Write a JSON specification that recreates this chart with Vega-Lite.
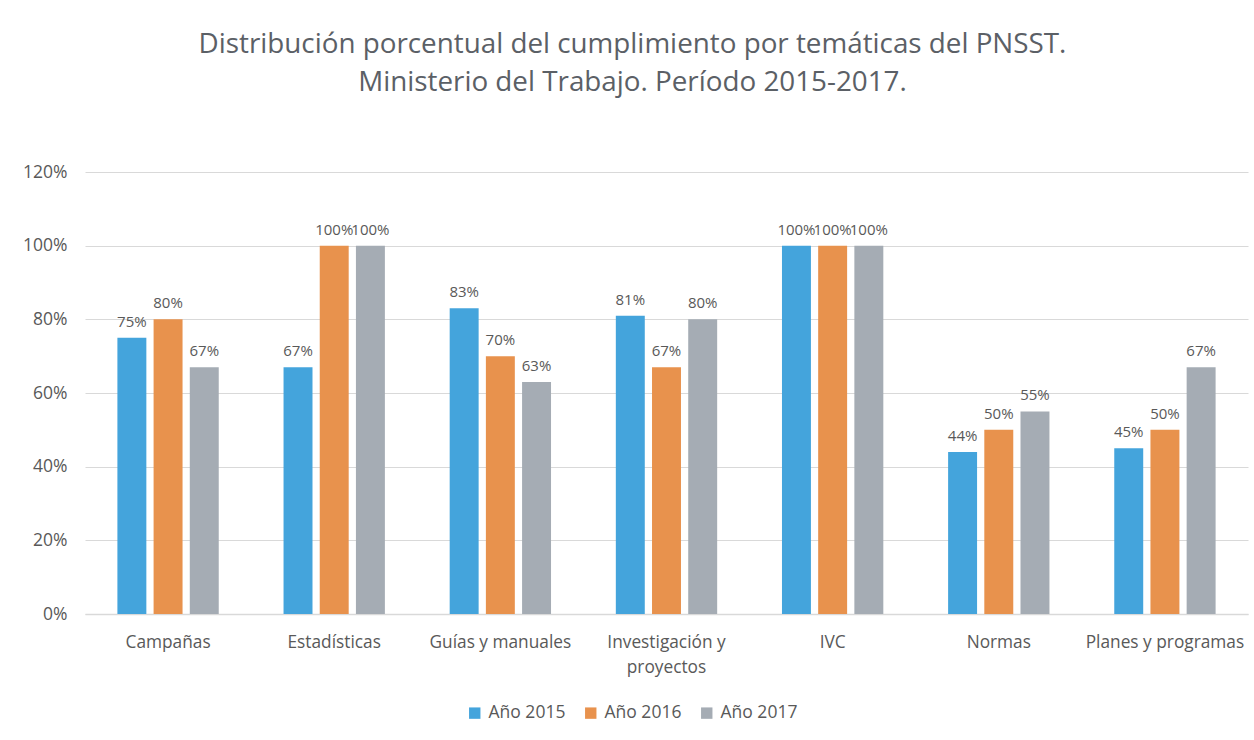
{
  "$schema": "https://vega.github.io/schema/vega-lite/v6.json",
  "autosize": {"type": "none"},
  "width": 1163,
  "height": 442,
  "padding": {"left": 85, "top": 172, "right": 6, "bottom": 126},
  "background": "white",
  "title": {
    "text": ["Distribución porcentual del cumplimiento por temáticas del PNSST.", "Ministerio del Trabajo. Período 2015-2017."],
    "font": "Open Sans",
    "fontSize": 27.8,
    "fontWeight": "normal",
    "color": "#5B6066",
    "lineHeight": 38,
    "anchor": "middle",
    "dx": -34,
    "offset": 66
  },
  "data": {
    "values": [
      {"tema": "Campañas", "anio": "Año 2015", "valor": 0.75},
      {"tema": "Campañas", "anio": "Año 2016", "valor": 0.80},
      {"tema": "Campañas", "anio": "Año 2017", "valor": 0.67},
      {"tema": "Estadísticas", "anio": "Año 2015", "valor": 0.67},
      {"tema": "Estadísticas", "anio": "Año 2016", "valor": 1.00},
      {"tema": "Estadísticas", "anio": "Año 2017", "valor": 1.00},
      {"tema": "Guías y manuales", "anio": "Año 2015", "valor": 0.83},
      {"tema": "Guías y manuales", "anio": "Año 2016", "valor": 0.70},
      {"tema": "Guías y manuales", "anio": "Año 2017", "valor": 0.63},
      {"tema": "Investigación y proyectos", "anio": "Año 2015", "valor": 0.81},
      {"tema": "Investigación y proyectos", "anio": "Año 2016", "valor": 0.67},
      {"tema": "Investigación y proyectos", "anio": "Año 2017", "valor": 0.80},
      {"tema": "IVC", "anio": "Año 2015", "valor": 1.00},
      {"tema": "IVC", "anio": "Año 2016", "valor": 1.00},
      {"tema": "IVC", "anio": "Año 2017", "valor": 1.00},
      {"tema": "Normas", "anio": "Año 2015", "valor": 0.44},
      {"tema": "Normas", "anio": "Año 2016", "valor": 0.50},
      {"tema": "Normas", "anio": "Año 2017", "valor": 0.55},
      {"tema": "Planes y programas", "anio": "Año 2015", "valor": 0.45},
      {"tema": "Planes y programas", "anio": "Año 2016", "valor": 0.50},
      {"tema": "Planes y programas", "anio": "Año 2017", "valor": 0.67}
    ]
  },
  "encoding": {
    "x": {
      "field": "tema",
      "type": "nominal",
      "sort": null,
      "title": null,
      "scale": {"paddingInner": 0.39, "paddingOuter": 0.195},
      "axis": {
        "labelAngle": 0,
        "labelFont": "Open Sans",
        "labelFontSize": 17.3,
        "labelColor": "#595959",
        "labelPadding": 19,
        "labelLineHeight": 25,
        "labelExpr": "datum.label == 'Investigación y proyectos' ? ['Investigación y', 'proyectos'] : datum.label",
        "ticks": false,
        "domainColor": "#D9D9D9",
        "domainWidth": 1.5
      }
    },
    "xOffset": {"field": "anio", "type": "nominal", "scale": {"paddingInner": 0.2}},
    "y": {
      "field": "valor",
      "type": "quantitative",
      "title": null,
      "scale": {"domain": [0, 1.2]},
      "axis": {
        "values": [0, 0.2, 0.4, 0.6, 0.8, 1.0, 1.2],
        "format": ".0%",
        "labelFont": "Open Sans",
        "labelFontSize": 17.5,
        "labelColor": "#595959",
        "labelPadding": 18,
        "ticks": false,
        "domain": false,
        "gridColor": "#D9D9D9",
        "gridWidth": 1
      }
    },
    "color": {
      "field": "anio",
      "type": "nominal",
      "title": null,
      "scale": {"domain": ["Año 2015", "Año 2016", "Año 2017"], "range": ["#44A4DC", "#E8924D", "#A5ACB4"]},
      "legend": {
        "orient": "none",
        "direction": "horizontal",
        "legendX": 381,
        "legendY": 532,
        "symbolType": "square",
        "symbolSize": 130,
        "symbolStrokeWidth": 0,
        "labelFont": "Open Sans",
        "labelFontSize": 17.5,
        "labelColor": "#595959",
        "columnPadding": 16,
        "labelOffset": 5
      }
    }
  },
  "layer": [
    {"mark": {"type": "bar"}},
    {
      "mark": {"type": "text", "baseline": "bottom", "dy": -8, "font": "Open Sans", "fontSize": 15, "color": "#595959"},
      "encoding": {
        "text": {"field": "valor", "type": "quantitative", "format": ".0%"},
        "color": {"value": "#595959"}
      }
    }
  ],
  "config": {"view": {"stroke": null}}
}
